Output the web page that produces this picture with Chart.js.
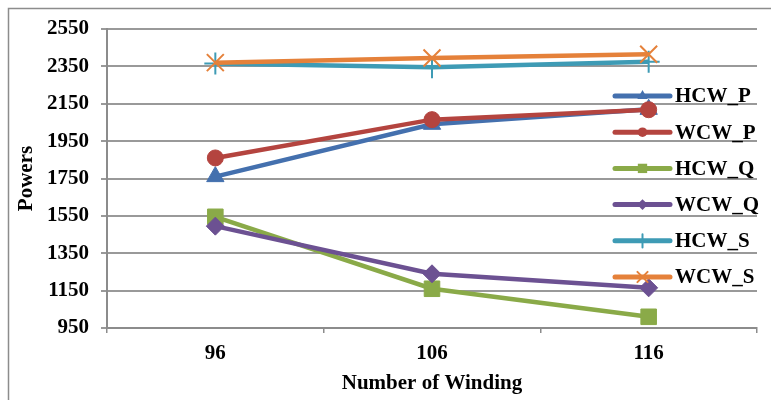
<!DOCTYPE html>
<html>
<head>
<meta charset="utf-8">
<style>
  html, body { margin: 0; padding: 0; background: #fff; }
  #wrap { position: relative; width: 771px; height: 400px; }
</style>
<script src="https://cdn.jsdelivr.net/npm/chart.js@4/dist/chart.umd.min.js"></script>
</head>
<body>
<div id="wrap"><canvas id="c" width="771" height="400"></canvas></div>
<script>
// Winding counts on the category axis
const windings = ['96', '106', '116'];

// Power values per configuration
const hcwP = [1760, 2040, 2120];
const wcwP = [1860, 2065, 2118];
const hcwQ = [1545, 1160, 1010];
const wcwQ = [1495, 1240, 1165];
const hcwS = [2365, 2345, 2375];
const wcwS = [2370, 2395, 2415];

const seriesNames = ['HCW_P', 'WCW_P', 'HCW_Q', 'WCW_Q', 'HCW_S', 'WCW_S'];
const seriesData = [hcwP, wcwP, hcwQ, wcwQ, hcwS, wcwS];
const seriesColors = ['#4470AE', '#B4443F', '#8AAA48', '#6C5192', '#3E9BB5', '#E5813A'];
const seriesShapes = ['triangle', 'circle', 'rect', 'rectRot', 'cross', 'crossRot'];
const seriesRadius = [10, 8, 11, 9, 11, 12];

const FONT = "'Liberation Serif', 'Times New Roman', serif";
const FONT_SIZE = 21;

const datasets = seriesNames.map((name, i) => {
  const cross = seriesShapes[i].startsWith('cross');
  return {
    label: name,
    data: seriesData[i],
    borderColor: seriesColors[i],
    backgroundColor: seriesColors[i],
    borderWidth: 4.5,
    pointStyle: seriesShapes[i],
    pointRadius: seriesRadius[i],
    pointHoverRadius: seriesRadius[i],
    pointBorderWidth: cross ? 2 : 1,
    pointBackgroundColor: seriesColors[i],
    pointBorderColor: seriesColors[i],
    tension: 0,
    order: seriesNames.length - i
  };
});

function marker(ctx, shape, x, y, r, color) {
  ctx.save();
  ctx.fillStyle = color;
  ctx.strokeStyle = color;
  ctx.lineWidth = 2;
  ctx.beginPath();
  if (shape === 'circle') {
    ctx.arc(x, y, r, 0, Math.PI * 2);
    ctx.fill();
  } else if (shape === 'triangle') {
    ctx.moveTo(x, y - r);
    ctx.lineTo(x + r * 0.866, y + r * 0.5);
    ctx.lineTo(x - r * 0.866, y + r * 0.5);
    ctx.closePath();
    ctx.fill();
  } else if (shape === 'rect') {
    const s = r * Math.SQRT1_2;
    ctx.rect(x - s, y - s, 2 * s, 2 * s);
    ctx.fill();
  } else if (shape === 'rectRot') {
    ctx.moveTo(x, y - r);
    ctx.lineTo(x + r, y);
    ctx.lineTo(x, y + r);
    ctx.lineTo(x - r, y);
    ctx.closePath();
    ctx.fill();
  } else if (shape === 'cross') {
    ctx.moveTo(x, y - r); ctx.lineTo(x, y + r);
    ctx.moveTo(x - r, y); ctx.lineTo(x + r, y);
    ctx.stroke();
  } else if (shape === 'crossRot') {
    const d = r * Math.SQRT1_2;
    ctx.moveTo(x - d, y - d); ctx.lineTo(x + d, y + d);
    ctx.moveTo(x - d, y + d); ctx.lineTo(x + d, y - d);
    ctx.stroke();
  }
  ctx.restore();
}

// Outer frame around the whole figure
const framePlugin = {
  id: 'frame',
  beforeDraw(chart) {
    const ctx = chart.ctx;
    ctx.save();
    ctx.fillStyle = '#fff';
    ctx.fillRect(0, 0, chart.width, chart.height);
    ctx.strokeStyle = '#8c8c8c';
    ctx.lineWidth = 1.5;
    ctx.strokeRect(8.5, 8.5, chart.width + 20, chart.height + 20);
    ctx.restore();
  }
};

// Legend drawn inside the plot, to the right
const legendPlugin = {
  id: 'sideLegend',
  afterDatasetsDraw(chart) {
    const ctx = chart.ctx;
    const x0 = 615, x1 = 670, top = 96, gap = 36.2;
    ctx.save();
    seriesNames.forEach((name, i) => {
      const y = top + i * gap;
      ctx.strokeStyle = seriesColors[i];
      ctx.lineWidth = 5;
      ctx.lineCap = 'round';
      ctx.beginPath();
      ctx.moveTo(x0, y);
      ctx.lineTo(x1, y);
      ctx.stroke();
      marker(ctx, seriesShapes[i], (x0 + x1) / 2, y, seriesRadius[i] * 0.6, seriesColors[i]);
      ctx.fillStyle = '#000';
      ctx.font = 'bold ' + FONT_SIZE + 'px ' + FONT;
      ctx.textAlign = 'left';
      ctx.textBaseline = 'middle';
      ctx.fillText(name, 675, y + 1);
    });
    ctx.restore();
  }
};

new Chart(document.getElementById('c'), {
  type: 'line',
  data: { labels: windings, datasets },
  plugins: [framePlugin, legendPlugin],
  options: {
    responsive: false,
    animation: false,
    events: [],
    layout: { padding: { left: 0, right: 8, top: 29, bottom: 0 } },
    plugins: { legend: { display: false }, tooltip: { enabled: false } },
    scales: {
      x: {
        offset: true,
        grid: {
          offset: true,
          drawOnChartArea: false,
          drawTicks: true,
          tickLength: 5,
          color: '#8c8c8c',
          lineWidth: 1.5
        },
        border: { color: '#8c8c8c', width: 2 },
        ticks: {
          color: '#000',
          padding: 8,
          font: { family: FONT, size: FONT_SIZE, weight: 'bold' }
        },
        title: {
          display: true,
          text: 'Number of Winding',
          color: '#000',
          padding: { top: 0, bottom: 4 },
          font: { family: FONT, size: FONT_SIZE, weight: 'bold' }
        },
        afterFit(scale) { scale.height = 72; }
      },
      y: {
        min: 950,
        max: 2550,
        ticks: {
          stepSize: 200,
          color: '#000',
          padding: 12,
          font: { family: FONT, size: FONT_SIZE, weight: 'bold' },
          callback: (v) => String(v)
        },
        grid: {
          color: '#999',
          lineWidth: 2,
          drawTicks: true,
          tickLength: 6
        },
        border: { color: '#8c8c8c', width: 2 },
        title: {
          display: true,
          text: 'Powers',
          color: '#000',
          padding: { top: 14, bottom: 0 },
          font: { family: FONT, size: FONT_SIZE, weight: 'bold' }
        },
        afterFit(scale) { scale.width = 107; }
      }
    }
  }
});
</script>
</body>
</html>
